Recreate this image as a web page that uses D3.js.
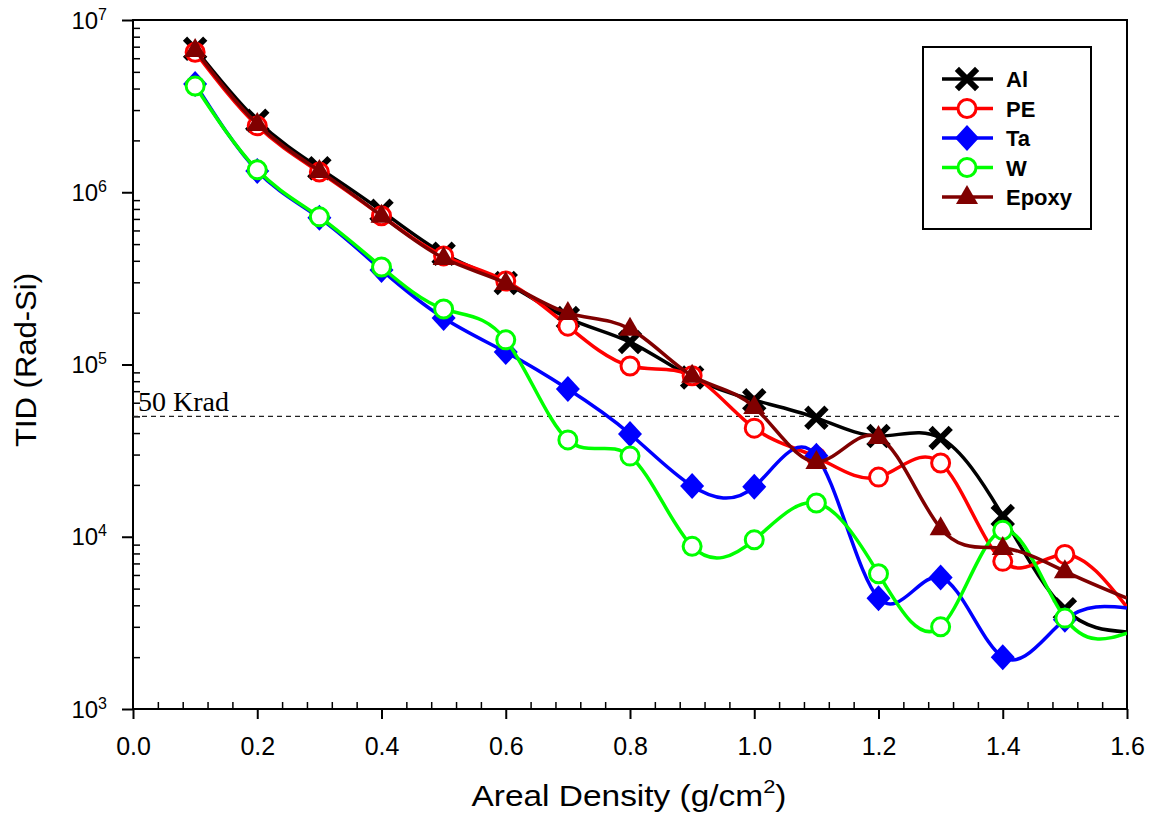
<!DOCTYPE html>
<html>
<head>
<meta charset="utf-8">
<script src="https://cdn.jsdelivr.net/npm/d3@7"></script>
<style>
  body { margin: 0; background: #fff; }
</style>
</head>
<body>
<div id="tid-chart"></div>
<script>
// areal density points (g/cm2), last one sits on the right border
var density = [0.1, 0.2, 0.3, 0.4, 0.5, 0.6, 0.7, 0.8, 0.9, 1.0, 1.1, 1.2, 1.3, 1.4, 1.5, 1.6];

// TID values (rad-Si)
var al    = [6.8e6, 2.6e6, 1.38e6, 7.8e5, 4.4e5, 2.97e5, 1.86e5, 1.35e5, 8.4e4, 6.2e4, 4.9e4, 3.84e4, 3.74e4, 1.32e4, 3.8e3, 2.8e3];
var pe    = [6.5e6, 2.43e6, 1.31e6, 7.3e5, 4.27e5, 3.05e5, 1.67e5, 9.8e4, 8.6e4, 4.27e4, 2.9e4, 2.22e4, 2.68e4, 7.2e3, 7.9e3, 3.9e3];
var ta    = [4.25e6, 1.33e6, 7.1e5, 3.54e5, 1.86e5, 1.18e5, 7.2e4, 3.95e4, 1.97e4, 1.95e4, 2.95e4, 4.4e3, 5.8e3, 2.0e3, 3.3e3, 3.86e3];
var w     = [4.14e6, 1.35e6, 7.2e5, 3.68e5, 2.1e5, 1.39e5, 3.65e4, 2.94e4, 8.8e3, 9.6e3, 1.57e4, 6.1e3, 3.0e3, 1.09e4, 3.37e3, 2.76e3];
var epoxy = [6.7e6, 2.49e6, 1.33e6, 7.3e5, 4.15e5, 2.97e5, 1.99e5, 1.61e5, 8.6e4, 5.66e4, 2.72e4, 3.79e4, 1.12e4, 8.6e3, 6.3e3, 4.4e3];

var seriesNames = ["Al", "PE", "Ta", "W", "Epoxy"];
var seriesValues = [al, pe, ta, w, epoxy];
var seriesColors = ["#000000", "#ff0000", "#0000ff", "#00ff00", "#800000"];
var seriesMarkers = ["cross", "circle", "diamond", "circle", "triangle"];

var xTicks = [0.0, 0.2, 0.4, 0.6, 0.8, 1.0, 1.2, 1.4, 1.6];
var yTicks = [1e3, 1e4, 1e5, 1e6, 1e7];
var limitValue = 5e4; // 50 krad design limit

var sans = "Arial, 'Liberation Sans', sans-serif";
var serif = "'Liberation Serif', 'Times New Roman', serif";

var W = 1158, H = 835;
var margin = {top: 20, right: 31, bottom: 126, left: 133};
var w0 = W - margin.left - margin.right;
var h0 = H - margin.top - margin.bottom;

var svg = d3.select("#tid-chart")
  .append("svg")
  .attr("width", W)
  .attr("height", H)
  .style("font-family", sans);

var g = svg.append("g")
  .attr("transform", "translate(" + margin.left + "," + margin.top + ")");

var x = d3.scaleLinear().domain([0, 1.6]).range([0, w0]);
var y = d3.scaleLog().domain([1e3, 1e7]).range([h0, 0]);

svg.append("defs").append("clipPath").attr("id", "plot-clip")
  .append("rect").attr("width", w0).attr("height", h0);

// minor ticks point inward, major ones outward
var xMinor = d3.range(0, 1.6001, 0.04).filter(function(v) {
  return Math.abs(v / 0.2 - Math.round(v / 0.2)) > 1e-6;
});
var yMinor = [];
yTicks.slice(0, 4).forEach(function(d) {
  for (var k = 2; k <= 9; k++) yMinor.push(d * k);
});

g.append("g")
  .attr("transform", "translate(0," + h0 + ")")
  .call(d3.axisBottom(x).tickValues(xMinor).tickSize(-7).tickFormat(""))
  .call(function(s) { s.select(".domain").remove(); })
  .selectAll("line").attr("stroke-width", 1.5);

g.append("g")
  .call(d3.axisLeft(y).tickValues(yMinor).tickSize(-7).tickFormat(""))
  .call(function(s) { s.select(".domain").remove(); })
  .selectAll("line").attr("stroke-width", 1.5);

var xAxis = g.append("g")
  .attr("transform", "translate(0," + h0 + ")")
  .call(d3.axisBottom(x).tickValues(xTicks).tickSize(10).tickFormat(d3.format(".1f")));
xAxis.select(".domain").remove();
xAxis.selectAll("line").attr("stroke-width", 2);
xAxis.selectAll("text")
  .style("font-size", "25px")
  .style("font-family", sans)
  .attr("fill", "#000")
  .attr("y", 28)
  .attr("dy", "0.71em");

var yAxis = g.append("g")
  .call(d3.axisLeft(y).tickValues(yTicks).tickSize(11).tickFormat(""));
yAxis.select(".domain").remove();
yAxis.selectAll("line").attr("stroke-width", 2);

// labels as 10 with a raised exponent
yAxis.selectAll(".tick").append("text")
  .attr("x", -26)
  .attr("y", 8)
  .attr("text-anchor", "end")
  .attr("fill", "#000")
  .style("font-family", sans)
  .style("font-size", "24px")
  .each(function(d) {
    var t = d3.select(this);
    t.append("tspan").text("10");
    t.append("tspan").attr("dy", -9).style("font-size", "16px").text(Math.round(Math.log10(d)));
  });

// frame
g.append("rect")
  .attr("width", w0).attr("height", h0)
  .attr("fill", "none").attr("stroke", "#000").attr("stroke-width", 2);

// 50 krad line
g.append("line")
  .attr("x1", 0).attr("x2", x(1.59))
  .attr("y1", y(limitValue)).attr("y2", y(limitValue))
  .attr("stroke", "#222").attr("stroke-width", 1.3)
  .attr("stroke-dasharray", "5,4");

g.append("text")
  .attr("x", 5).attr("y", y(limitValue) - 5)
  .style("font-family", serif)
  .style("font-size", "28px")
  .attr("fill", "#000")
  .text("50 Krad");

function drawMarker(sel, type, color) {
  if (type === "cross") {
    sel.append("path")
      .attr("d", "M-8,-8L8,8M-8,8L8,-8")
      .attr("stroke", color).attr("stroke-width", 6)
      .attr("stroke-linecap", "square").attr("fill", "none");
  } else if (type === "circle") {
    sel.append("circle").attr("r", 9)
      .attr("fill", "#fff").attr("stroke", color).attr("stroke-width", 3);
  } else if (type === "diamond") {
    sel.append("path").attr("d", "M0,-13L12,0L0,13L-12,0Z").attr("fill", color);
  } else {
    sel.append("path").attr("d", "M0,-12L11,7L-11,7Z").attr("fill", color);
  }
}

var line = d3.line()
  .x(function(d) { return x(d[0]); })
  .y(function(d) { return y(d[1]); })
  .curve(d3.curveNatural);

var plot = g.append("g").attr("clip-path", "url(#plot-clip)");

seriesValues.forEach(function(vals, i) {
  var pts = density.map(function(d, j) { return [d, vals[j]]; });
  plot.append("path")
    .datum(pts)
    .attr("d", line)
    .attr("fill", "none")
    .attr("stroke", seriesColors[i])
    .attr("stroke-width", 3.5);

  // no marker on the border point
  plot.selectAll(null)
    .data(pts.filter(function(p) { return p[0] < 1.55; }))
    .enter()
    .append("g")
    .attr("transform", function(p) { return "translate(" + x(p[0]) + "," + y(p[1]) + ")"; })
    .each(function() { drawMarker(d3.select(this), seriesMarkers[i], seriesColors[i]); });
});

// legend
var lg = svg.append("g").attr("transform", "translate(923,47)");
lg.append("rect")
  .attr("width", 168).attr("height", 182)
  .attr("fill", "#fff").attr("stroke", "#000").attr("stroke-width", 2);

seriesNames.forEach(function(name, i) {
  var row = lg.append("g").attr("transform", "translate(0," + (32 + i * 29.5) + ")");
  row.append("line")
    .attr("x1", 19).attr("x2", 70)
    .attr("stroke", seriesColors[i]).attr("stroke-width", 3.5);
  var m = row.append("g").attr("transform", "translate(44,0)");
  drawMarker(m, seriesMarkers[i], seriesColors[i]);
  row.append("text")
    .attr("x", 83).attr("y", 8)
    .style("font-size", "22px")
    .style("font-weight", "bold")
    .attr("fill", "#000")
    .text(name);
});

// axis titles
svg.append("text")
  .attr("x", margin.left + w0 / 2 - 1)
  .attr("y", 806)
  .attr("text-anchor", "middle")
  .attr("textLength", 315)
  .attr("lengthAdjust", "spacingAndGlyphs")
  .style("font-size", "29px")
  .attr("fill", "#000")
  .call(function(t) {
    t.append("tspan").text("Areal Density (g/cm");
    t.append("tspan").attr("dy", -13).style("font-size", "19px").text("2");
    t.append("tspan").attr("dy", 13).text(")");
  });

svg.append("text")
  .attr("transform", "translate(36,360) rotate(-90)")
  .attr("text-anchor", "middle")
  .attr("textLength", 174)
  .attr("lengthAdjust", "spacingAndGlyphs")
  .style("font-size", "29px")
  .attr("fill", "#000")
  .text("TID (Rad-Si)");
</script>
</body>
</html>
